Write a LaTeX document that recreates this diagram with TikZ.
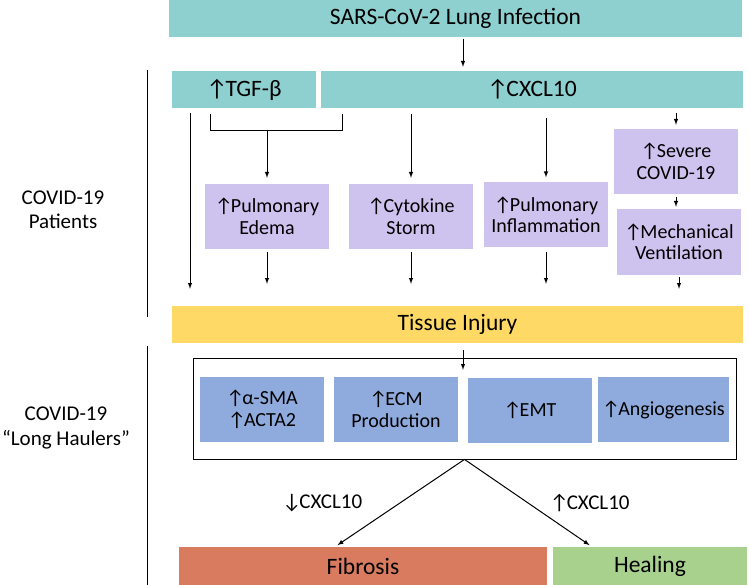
\documentclass[tikz,border=0pt]{standalone}
\usepackage{fontspec}
\setmainfont{Carlito}
\usetikzlibrary{arrows}
\definecolor{tealbox}{RGB}{142,207,207}
\definecolor{lilac}{RGB}{206,194,238}
\definecolor{injuryfill}{RGB}{255,217,102}
\definecolor{bluebox}{RGB}{143,170,220}
\definecolor{fibfill}{RGB}{216,123,94}
\definecolor{healfill}{RGB}{169,209,142}
\newcommand{\incr}{↑\kern-2pt}
\newcommand{\decr}{↓\kern-2pt}
\tikzstyle{base} = [rectangle, inner sep=1pt, align=center, font=\fontsize{20}{21.5}\selectfont]
\tikzstyle{wide} = [base, minimum height=37pt, font=\fontsize{23.5}{26}\selectfont]
\tikzstyle{trigger} = [wide, fill=tealbox]
\tikzstyle{effect} = [base, fill=lilac, minimum width=124pt, minimum height=65pt]
\tikzstyle{marker} = [base, fill=bluebox, minimum width=124pt, minimum height=65pt]
\tikzstyle{side} = [base, font=\fontsize{21}{24.5}\selectfont]
\tikzstyle{arrow} = [->,>=latex, line width=1pt]
\begin{document}
\begin{tikzpicture}[x=1pt, y=-1pt]
\useasboundingbox (0,0) rectangle (749,585);
\node (infect) [trigger, minimum width=573pt] at (455.5,18.5) {SARS-CoV-2 Lung Infection};
\node (tgf) [trigger, minimum width=144pt] at (244,89.5) {\incr TGF-β};
\node (cxcl) [trigger, minimum width=422pt] at (532,89.5) {\incr CXCL10};
\node (edema) [effect] at (267,216.5) {\incr Pulmonary\\Edema};
\node (storm) [effect] at (411,216.5) {\incr Cytokine\\Storm};
\node (inflam) [effect] at (546,215) {\incr Pulmonary\\Inflammation};
\node (severe) [effect] at (676,161.5) {\incr Severe\\COVID-19};
\node (vent) [effect, minimum height=66pt] at (679,242) {\incr Mechanical\\Ventilation};
\node (injury) [wide, fill=injuryfill, minimum width=571pt] at (457.5,324.5) {Tissue Injury};
\node (frame) [draw, line width=0.8pt, minimum width=543pt, minimum height=101pt] at (464.5,408.5) {};
\node (sma) [marker] at (262,409.5) {\incr α-SMA\\\incr ACTA2};
\node (ecm) [marker] at (396,409.5) {\incr ECM\\Production};
\node (emt) [marker] at (530,410.5) {\incr EMT};
\node (angio) [marker, minimum width=131pt] at (663.5,409.5) {\incr Angiogenesis};
\node (fibrosis) [wide, fill=fibfill, minimum width=368pt, minimum height=38pt] at (363,566) {Fibrosis};
\node (healing) [wide, fill=healfill, minimum width=194pt, minimum height=38pt] at (650,566) {Healing};
\node (patients) [side] at (63,210) {COVID-19\\Patients};
\node (haulers) [side] at (66,428) {COVID-19\\“Long Haulers”};

% lane markers
\coordinate (mid) at (463,0);
\coordinate (lane) at (190,0);
\coordinate (brL) at (210,130);
\coordinate (brR) at (342,130);
\coordinate (brM) at (267,130);

% separators
\draw[line width=0.8pt] (147,70) -- (147,317);
\draw[line width=0.8pt] (147,346) -- (147,585);

\draw [arrow, shorten <=2pt, shorten >=4pt] (infect.south -| mid) -- (cxcl.north -| mid);
\draw [arrow, shorten <=5pt, shorten >=17pt] (tgf.south -| lane) -- (injury.north -| lane);
\draw [line width=0.8pt] ([yshift=-6pt]tgf.south -| brL) -- (brL) -- (brR) -- ([yshift=-6pt]cxcl.south -| brR);
\draw [arrow, shorten >=6pt] (brM) -- (edema.north);
\draw [arrow, shorten <=6pt, shorten >=6pt] (cxcl.south -| storm) -- (storm.north);
\draw [arrow, shorten <=10pt, shorten >=5pt] (cxcl.south -| inflam) -- (inflam.north);
\draw [arrow, shorten <=5pt, shorten >=4pt] (cxcl.south -| severe) -- (severe.north);
\draw [arrow, shorten <=3pt, shorten >=2pt] (severe.south) -- (severe.south |- vent.north);
\draw [arrow, shorten <=3pt, shorten >=22pt] (edema.south) -- (edema.south |- injury.north);
\draw [arrow, shorten <=3pt, shorten >=22pt] (storm.south) -- (storm.south |- injury.north);
\draw [arrow, shorten <=4pt, shorten >=22pt] (inflam.south) -- (inflam.south |- injury.north);
\draw [arrow, shorten <=2pt, shorten >=17pt] (vent.south) -- (vent.south |- injury.north);
\draw [arrow, shorten <=7pt, shorten >=7pt] (injury.south -| mid) -- (sma.north -| mid);
\draw [arrow, shorten >=3pt] (frame.south) -- ([xshift=-28pt]fibrosis.north) node[side, midway, left=36pt] {\decr CXCL10};
\draw [arrow, shorten >=3pt] (frame.south) -- ([xshift=-58pt]healing.north) node[side, midway, right=20pt] {\incr CXCL10};
\end{tikzpicture}
\end{document}
